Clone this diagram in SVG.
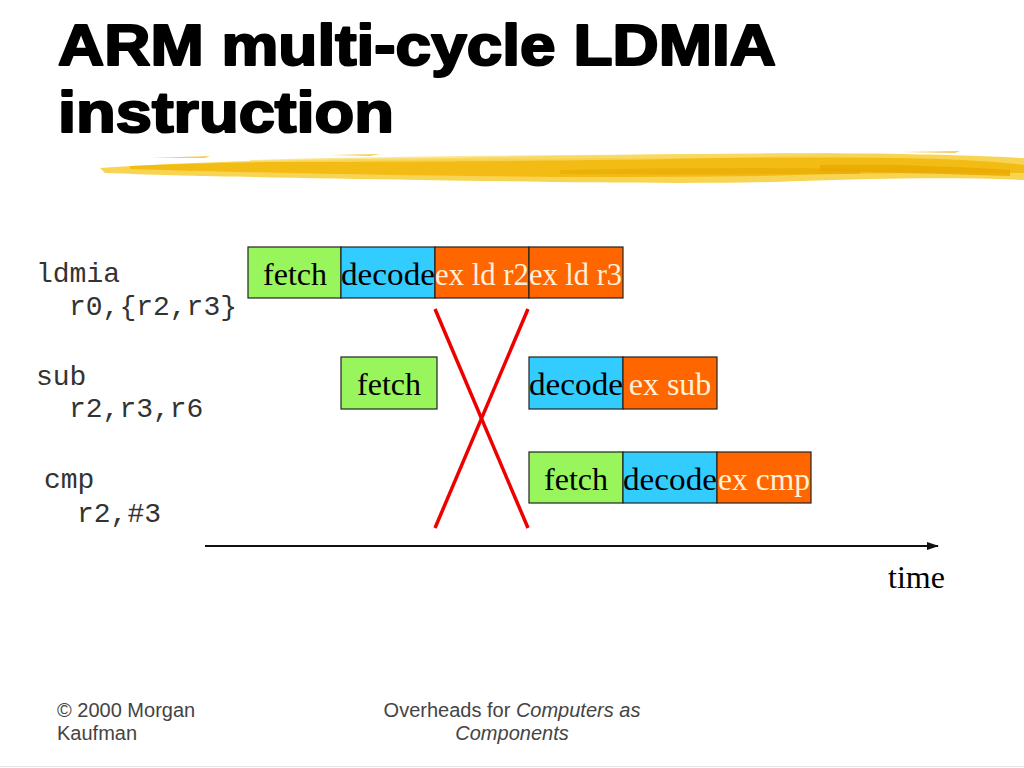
<svg xmlns="http://www.w3.org/2000/svg" width="1024" height="768" viewBox="0 0 1024 768">
<defs>
<style>
.title{font-family:"Liberation Sans",Arial,sans-serif;font-weight:bold;font-size:58px;fill:#000;stroke:#000;stroke-width:2.2px;stroke-linejoin:round}
.code{font-family:"Liberation Mono","Courier New",monospace;font-size:28px;fill:#333}
.box{stroke:#222;stroke-width:1.2}
.g{fill:#99F55C}
.b{fill:#33CCFF}
.o{fill:#FF6600}
.lbl{font-family:"Liberation Serif","Times New Roman",serif;font-size:32px}
.dk{fill:#000}
.lt{fill:#FFF1DA}
.foot{font-family:"Liberation Sans",Arial,sans-serif;font-size:20px;fill:#444}
.stall{stroke:#EE0000;stroke-width:3.5;fill:none}
</style>
<marker id="ah" markerWidth="12" markerHeight="10" refX="11" refY="5" orient="auto" markerUnits="userSpaceOnUse">
<path d="M0,1 L12,5 L0,9 Z" fill="#111"/>
</marker>
</defs>
<rect width="1024" height="768" fill="#fff"/>

<g id="title">
<text class="title" x="58" y="65" textLength="718" lengthAdjust="spacingAndGlyphs">ARM multi-cycle LDMIA</text>
<text class="title" x="58" y="132" textLength="336" lengthAdjust="spacingAndGlyphs">instruction</text>
</g>

<g id="brush">
<path d="M100,168 C200,161 320,159 450,158 C600,155 760,152 900,154 C960,155 1000,157 1024,158 L1024,180 C960,177 880,178 800,181 C700,185 560,182 420,180 C300,178 180,176 105,173 Z" fill="#F7CD35" opacity="0.85"/>
<path d="M130,166 C260,161 400,160 520,159 C650,158 780,157 900,158 C960,159 1000,162 1024,165 L1024,173 C940,172 860,173 760,176 C640,178 520,177 400,175 C280,173 190,171 130,169 Z" fill="#F0B400" opacity="0.75"/>
<path d="M250,160 C400,156 560,155 720,154 L840,153 C780,158 640,160 500,161 C400,162 320,162 250,162 Z" fill="#F9DC6A" opacity="0.7"/>
<path d="M560,170 C660,168 760,167 860,169 L860,174 C760,174 660,175 560,174 Z" fill="#E6A700" opacity="0.55"/>
<path d="M820,165 C880,164 950,166 1010,170 L1010,176 C940,174 880,172 820,171 Z" fill="#E8A800" opacity="0.8"/>
<path d="M150,158 L210,156 L205,158 Z M330,155 L380,154 L370,156 Z M900,152 L960,151 L955,153 Z" fill="#F3C22A" opacity="0.8"/>
</g>

<g id="code">
<text class="code" x="36" y="282">ldmia</text>
<text class="code" x="69" y="315">r0,{r2,r3}</text>
<text class="code" x="36" y="385">sub</text>
<text class="code" x="69" y="417">r2,r3,r6</text>
<text class="code" x="44" y="488">cmp</text>
<text class="code" x="77" y="522">r2,#3</text>
</g>

<g id="ldmia-fetch"><rect class="box g" x="248" y="247" width="93" height="51"/><text class="lbl dk" x="295" y="285" text-anchor="middle">fetch</text></g>
<g id="ldmia-decode"><rect class="box b" x="341" y="247" width="94" height="51"/><text class="lbl dk" x="341" y="285" textLength="94" lengthAdjust="spacingAndGlyphs">decode</text></g>
<g id="ldmia-ex1"><rect class="box o" x="435" y="247" width="94" height="51"/><text class="lbl lt" x="435" y="285" textLength="94" lengthAdjust="spacingAndGlyphs">ex ld r2</text></g>
<g id="ldmia-ex2"><rect class="box o" x="529" y="247" width="94" height="51"/><text class="lbl lt" x="529" y="285" textLength="93" lengthAdjust="spacingAndGlyphs">ex ld r3</text></g>

<g id="sub-fetch"><rect class="box g" x="341" y="357" width="96" height="52"/><text class="lbl dk" x="389" y="395" text-anchor="middle">fetch</text></g>
<g id="sub-decode"><rect class="box b" x="529" y="357" width="94" height="52"/><text class="lbl dk" x="529" y="395" textLength="94" lengthAdjust="spacingAndGlyphs">decode</text></g>
<g id="sub-ex"><rect class="box o" x="623" y="357" width="94" height="52"/><text class="lbl lt" x="670" y="395" text-anchor="middle">ex sub</text></g>

<g id="cmp-fetch"><rect class="box g" x="529" y="452" width="94" height="51"/><text class="lbl dk" x="576" y="490" text-anchor="middle">fetch</text></g>
<g id="cmp-decode"><rect class="box b" x="623" y="452" width="94" height="51"/><text class="lbl dk" x="623" y="490" textLength="94" lengthAdjust="spacingAndGlyphs">decode</text></g>
<g id="cmp-ex"><rect class="box o" x="717" y="452" width="94" height="51"/><text class="lbl lt" x="718" y="490" textLength="92" lengthAdjust="spacingAndGlyphs">ex cmp</text></g>

<g id="connectors">
<line class="stall" x1="435" y1="309" x2="528" y2="528"/>
<line class="stall" x1="528" y1="309" x2="435" y2="528"/>
<line x1="205" y1="546" x2="938" y2="546" stroke="#111" stroke-width="2" marker-end="url(#ah)"/>
</g>

<g id="time-label"><text class="lbl dk" x="888" y="588">time</text></g>

<g id="footer">
<text class="foot" x="57" y="717">© 2000 Morgan</text>
<text class="foot" x="57" y="740">Kaufman</text>
<text class="foot" x="512" y="717" text-anchor="middle">Overheads for <tspan font-style="italic">Computers as</tspan></text>
<text class="foot" x="512" y="740" text-anchor="middle" font-style="italic">Components</text>
<line x1="0" y1="766.5" x2="1024" y2="766.5" stroke="#e6e6e6" stroke-width="1"/>
</g>
</svg>
